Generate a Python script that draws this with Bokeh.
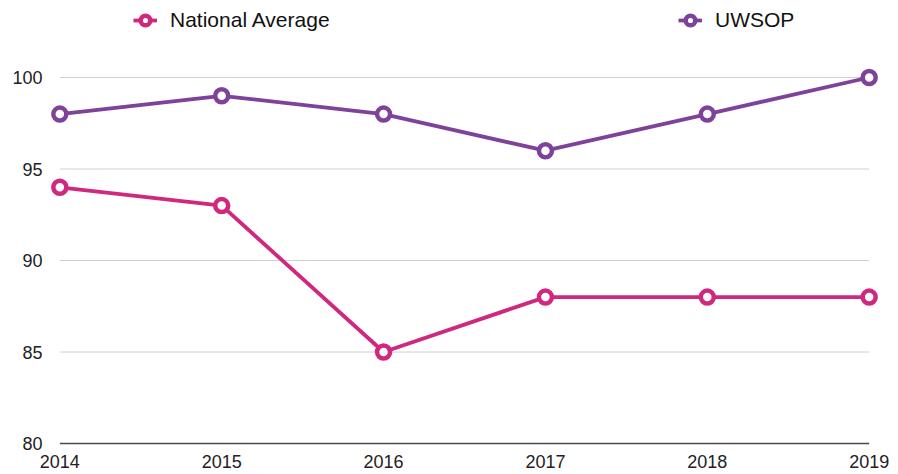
from bokeh.plotting import figure
from bokeh.models import Legend, LegendItem, FixedTicker, Range1d
from bokeh.embed import file_html
from bokeh.resources import INLINE

years = [2014, 2015, 2016, 2017, 2018, 2019]
national_average = [94, 93, 85, 88, 88, 88]
uwsop = [98, 99, 98, 96, 98, 100]
y_ticks = [80, 85, 90, 95, 100]

PINK = "#D0287F"
PURPLE = "#7E429A"
FONT = "Liberation Sans"
PAD = 0.07

p = figure(width=898, height=474, output_backend="svg", toolbar_location=None,
           x_range=Range1d(years[0] - PAD, years[-1] + PAD), y_range=Range1d(79.836, 104.208),
           min_border_left=48, min_border_right=18, min_border_top=0, min_border_bottom=28)
p.outline_line_color = None
p.background_fill_color = "white"
p.border_fill_color = "white"

p.xgrid.grid_line_color = None
p.ygrid.grid_line_color = None

# horizontal gridlines spanning only the data years
grid_y = [t for t in y_ticks if t != y_ticks[0]]
p.segment(x0=[years[0]] * len(grid_y), x1=[years[-1]] * len(grid_y),
          y0=grid_y, y1=grid_y, line_color="#D0D0D0", line_width=1)
# baseline
p.segment(x0=[years[0]], x1=[years[-1]], y0=[y_ticks[0]], y1=[y_ticks[0]],
          line_color="#4A4A4A", line_width=1.5)

p.yaxis.ticker = FixedTicker(ticks=y_ticks)
p.xaxis.ticker = FixedTicker(ticks=years)
for ax in (p.xaxis, p.yaxis):
    ax.major_tick_out = 0
    ax.major_tick_in = 0
    ax.minor_tick_out = 0
    ax.minor_tick_in = 0
    ax.major_tick_line_color = None
    ax.minor_tick_line_color = None
    ax.axis_line_color = None
    ax.major_label_text_font = FONT
    ax.major_label_text_font_size = "18px"
    ax.major_label_text_color = "#222222"

p.yaxis.major_label_standoff = 6
p.xaxis.major_label_standoff = 8

l1 = p.line(years, national_average, line_color=PINK, line_width=3.8)
s1 = p.scatter(years, national_average, size=13, fill_color="white",
               line_color=PINK, line_width=4.5)
l2 = p.line(years, uwsop, line_color=PURPLE, line_width=3.8)
s2 = p.scatter(years, uwsop, size=13, fill_color="white",
               line_color=PURPLE, line_width=4.5)

def make_legend(label, renderers, x):
    lg = Legend(items=[LegendItem(label=label, renderers=renderers)],
                location=(x, 414), orientation="horizontal",
                border_line_color=None, background_fill_alpha=0,
                padding=0, margin=0, glyph_width=24, glyph_height=24,
                label_standoff=13, label_text_font=FONT,
                label_text_font_size="21px", label_text_color="#111111",
                label_height=24)
    p.add_layout(lg, "center")

make_legend("National Average", [l1, s1], 85)
make_legend("UWSOP", [l2, s2], 630)

open("out.html", "w").write(file_html(p, INLINE))
